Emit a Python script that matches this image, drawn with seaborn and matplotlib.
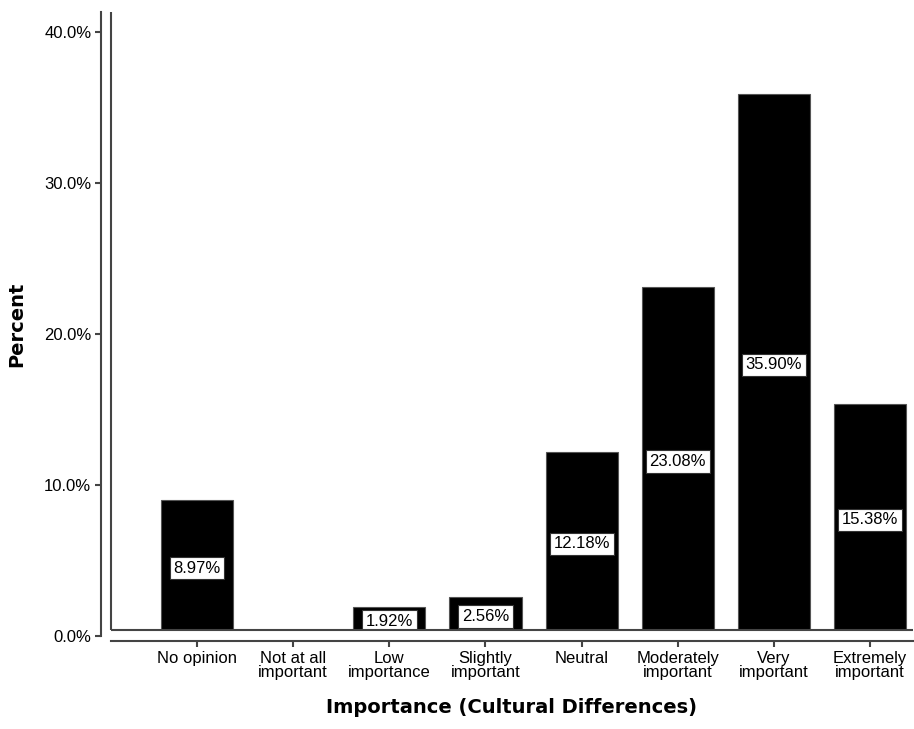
import seaborn as sns
import pandas as pd
import matplotlib.pyplot as plt
from matplotlib.ticker import FuncFormatter

categories = ["No opinion", "Not at all\nimportant", "Low\nimportance", "Slightly\nimportant",
              "Neutral", "Moderately\nimportant", "Very\nimportant", "Extremely\nimportant"]
percents = [8.97, 0.0, 1.92, 2.56, 12.18, 23.08, 35.90, 15.38]
yticks = [0, 10, 20, 30, 40]

df = pd.DataFrame({"cat": categories, "pct": percents})

sns.set_style("white")
plt.rcParams["font.family"] = ["Liberation Sans", "DejaVu Sans"]
plt.rcParams["text.color"] = "black"
plt.rcParams["axes.labelcolor"] = "black"

W, H = 914, 729
fig = plt.figure(figsize=(W / 100, H / 100), dpi=100)
ax = fig.add_axes([111 / W, (H - 636) / H, (913 - 111) / W, (636 - 12) / H])

sns.barplot(data=df, x="cat", y="pct", color="black", width=0.75,
            edgecolor="#555555", linewidth=0.8, saturation=1, ax=ax, zorder=2)

ax.set_xlim(-0.895, 7.447)
ax.set_ylim(0, 41.3)
ax.set_yticks(yticks)
ax.yaxis.set_major_formatter(FuncFormatter(lambda v, p: f"{v:.1f}%"))

# value labels in white boxes at half height
for i, v in enumerate(percents):
    if v <= 0:
        continue
    ax.text(i, v / 2, f"{v:.2f}%", ha="center", va="center", fontsize=12, zorder=2.5,
            color="black",
            bbox=dict(boxstyle="square,pad=0.22", fc="white", ec="#333333", lw=0.8))

# SPSS style inner frame
ax.axhspan(0, 0.4, color="white", zorder=3)
ax.plot([0, 1], [0.4 / 41.3, 0.4 / 41.3], transform=ax.transAxes, color="#444444",
        lw=1.5, zorder=4, clip_on=False, solid_capstyle="butt")
ax.plot([0, 0], [0.4 / 41.3, 1], transform=ax.transAxes, color="#444444",
        lw=1.5, zorder=4, clip_on=False, solid_capstyle="butt")

sns.despine(ax=ax)
ax.spines["left"].set_position(("outward", 7.2))
ax.spines["bottom"].set_position(("outward", 3.6))
for s in ("left", "bottom"):
    ax.spines[s].set_color("#444444")
    ax.spines[s].set_linewidth(1.5)
ax.tick_params(axis="both", length=4, width=1.5, color="#444444", labelsize=12,
               labelcolor="black", pad=3, direction="out")
ax.tick_params(axis="both", left=True, bottom=True)
for lbl in ax.get_xticklabels():
    lbl.set_linespacing(0.95)

ax.set_xlabel("Importance (Cultural Differences)", fontsize=14, fontweight="bold",
              family="DejaVu Sans", labelpad=13)
ax.set_ylabel("Percent", fontsize=14, fontweight="bold", family="DejaVu Sans", labelpad=13)
ax.grid(False)

fig.savefig("out.png", dpi=100)
